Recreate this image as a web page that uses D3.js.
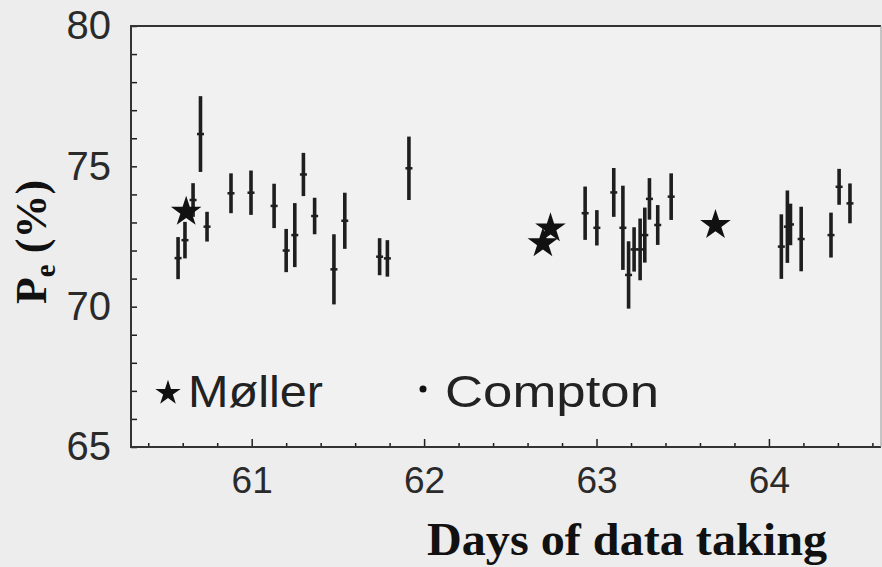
<!DOCTYPE html>
<html>
<head>
<meta charset="utf-8">
<script src="https://cdn.jsdelivr.net/npm/d3@7"></script>
<style>
  body { margin: 0; background: #ededed; }
  svg { display: block; }
</style>
</head>
<body>
<svg id="chart"></svg>
<script>
// Compton measurements (day, polarization %, error)
var comptonDays = [60.573, 60.613, 60.66, 60.703, 60.741, 60.88, 60.996, 61.13, 61.2, 61.25,
                   61.30, 61.365, 61.477, 61.54, 61.742, 61.787, 61.912,
                   62.934, 63.002, 63.1, 63.153, 63.186, 63.218, 63.253, 63.28, 63.307, 63.355, 63.433,
                   64.072, 64.107, 64.125, 64.187, 64.36, 64.407, 64.47];
var comptonPol = [71.73, 72.37, 73.8, 76.15, 72.85, 74.04, 74.06, 73.59, 72.0, 72.55,
                  74.71, 73.23, 71.33, 73.06, 71.78, 71.72, 74.93,
                  73.33, 72.81, 74.07, 72.81, 71.13, 72.04, 72.04, 72.55, 73.84, 72.91, 73.92,
                  72.14, 72.85, 72.93, 72.41, 72.55, 74.27, 73.68];
var comptonErr = [0.75, 0.65, 0.6, 1.35, 0.53, 0.71, 0.79, 0.79, 0.77, 1.14,
                  0.77, 0.65, 1.25, 1.0, 0.66, 0.65, 1.13,
                  0.95, 0.63, 0.87, 1.5, 1.2, 0.79, 1.1, 0.98, 0.74, 0.71, 0.83,
                  1.15, 1.29, 0.74, 1.15, 0.8, 0.64, 0.71];

// Moller measurements
var mollerDays = [60.62, 62.689, 62.733, 63.69];
var mollerPol = [73.38, 72.26, 72.79, 72.91];

var xTicks = [61, 62, 63, 64];
var yTicks = [65, 70, 75, 80];

var W = 882, H = 567;
var plotL = 131, plotR = 881, plotT = 26, plotB = 447;
var ink = "#1e1e1e";

var svg = d3.select("#chart").attr("width", W).attr("height", H);

var x = d3.scaleLinear().domain([60.3, 64.65]).range([plotL, plotR]);
var y = d3.scaleLinear().domain([65, 80]).range([plotB, plotT]);

// plot background
svg.append("rect")
  .attr("x", plotL).attr("y", plotT)
  .attr("width", plotR - plotL).attr("height", plotB - plotT)
  .attr("fill", "#f1f1f1");

// minor ticks
var xMinor = d3.range(60.4, 64.65, 0.2).filter(function(d) {
  return Math.abs(d - Math.round(d)) > 0.01;
});
svg.append("g")
  .attr("transform", "translate(0," + plotB + ")")
  .call(d3.axisBottom(x).tickValues(xMinor).tickSize(-4).tickFormat(""))
  .call(function(g) { g.select(".domain").remove(); })
  .selectAll("line").attr("stroke", ink).attr("stroke-width", 1.5);

// x axis
var xAxis = svg.append("g")
  .attr("transform", "translate(0," + plotB + ")")
  .call(d3.axisBottom(x).tickValues(xTicks).tickSize(-8).tickPadding(20).tickFormat(d3.format("d")));
xAxis.select(".domain").remove();
xAxis.selectAll("line").attr("stroke", ink).attr("stroke-width", 1.5);
xAxis.selectAll("text")
  .attr("font-family", "Liberation Sans, Arial, sans-serif")
  .attr("font-size", 37).attr("fill", "#2a2a2a");

// y axis with ticks every unit
var yAxis = svg.append("g")
  .attr("transform", "translate(" + plotL + ",0)")
  .call(d3.axisLeft(y).tickValues(d3.range(65, 81, 1)).tickSize(-6).tickPadding(20)
    .tickFormat(function(d) { return yTicks.indexOf(d) >= 0 ? d : ""; }));
yAxis.select(".domain").remove();
yAxis.selectAll("line").attr("stroke", ink).attr("stroke-width", 1.5);
yAxis.selectAll("text")
  .attr("font-family", "Liberation Sans, Arial, sans-serif")
  .attr("font-size", 40).attr("fill", "#2a2a2a");

// frame
svg.append("path")
  .attr("d", "M" + plotR + "," + plotT + "H" + plotL + "V" + plotB + "H" + plotR)
  .attr("fill", "none").attr("stroke", "#333").attr("stroke-width", 2);
svg.append("line")
  .attr("x1", plotR).attr("x2", plotR).attr("y1", plotT).attr("y2", plotB)
  .attr("stroke", "#999").attr("stroke-width", 1);

// Compton error bars
var compton = comptonDays.map(function(d, i) {
  return { day: d, pol: comptonPol[i], err: comptonErr[i] };
});
var pts = svg.append("g").selectAll("g").data(compton).enter().append("g");
pts.append("line")
  .attr("x1", function(d) { return x(d.day); })
  .attr("x2", function(d) { return x(d.day); })
  .attr("y1", function(d) { return y(d.pol + d.err); })
  .attr("y2", function(d) { return y(d.pol - d.err); })
  .attr("stroke", ink).attr("stroke-width", 3.6);
pts.append("line")
  .attr("x1", function(d) { return x(d.day) - 3.5; })
  .attr("x2", function(d) { return x(d.day) + 3.5; })
  .attr("y1", function(d) { return y(d.pol); })
  .attr("y2", function(d) { return y(d.pol); })
  .attr("stroke", ink).attr("stroke-width", 2.5);

// Moller stars
var star = d3.symbol().type(d3.symbolStar);
svg.append("g").selectAll("path")
  .data(mollerDays)
  .enter().append("path")
  .attr("transform", function(d, i) { return "translate(" + x(d) + "," + y(mollerPol[i]) + ")"; })
  .attr("d", star.size(290))
  .attr("fill", "#111");

// legend
svg.append("path")
  .attr("transform", "translate(168,393)")
  .attr("d", d3.symbol().type(d3.symbolStar).size(200))
  .attr("fill", "#111");
svg.append("text")
  .attr("x", 188).attr("y", 407)
  .attr("font-family", "Liberation Sans, Arial, sans-serif")
  .attr("font-size", 44).attr("fill", "#222")
  .attr("textLength", 135).attr("lengthAdjust", "spacingAndGlyphs")
  .text("Møller");
svg.append("circle")
  .attr("cx", 423).attr("cy", 389).attr("r", 3.5).attr("fill", "#111");
svg.append("text")
  .attr("x", 445).attr("y", 407)
  .attr("font-family", "Liberation Sans, Arial, sans-serif")
  .attr("font-size", 44).attr("fill", "#222")
  .attr("textLength", 214).attr("lengthAdjust", "spacingAndGlyphs")
  .text("Compton");

// axis titles
svg.append("text")
  .attr("x", 627).attr("y", 555)
  .attr("text-anchor", "middle")
  .attr("font-family", "Liberation Serif, Times New Roman, serif")
  .attr("font-weight", "bold").attr("font-size", 46).attr("fill", "#111")
  .attr("textLength", 400).attr("lengthAdjust", "spacingAndGlyphs")
  .text("Days of data taking");

var yt = svg.append("text")
  .attr("transform", "translate(46,242) rotate(-90)")
  .attr("text-anchor", "middle")
  .attr("font-family", "Liberation Serif, Times New Roman, serif")
  .attr("font-weight", "bold").attr("font-size", 44).attr("fill", "#111");
yt.append("tspan").text("P");
yt.append("tspan").attr("font-size", 29).attr("dy", 9).text("e");
yt.append("tspan").attr("dy", -9).text(" (%)");
</script>
</body>
</html>
